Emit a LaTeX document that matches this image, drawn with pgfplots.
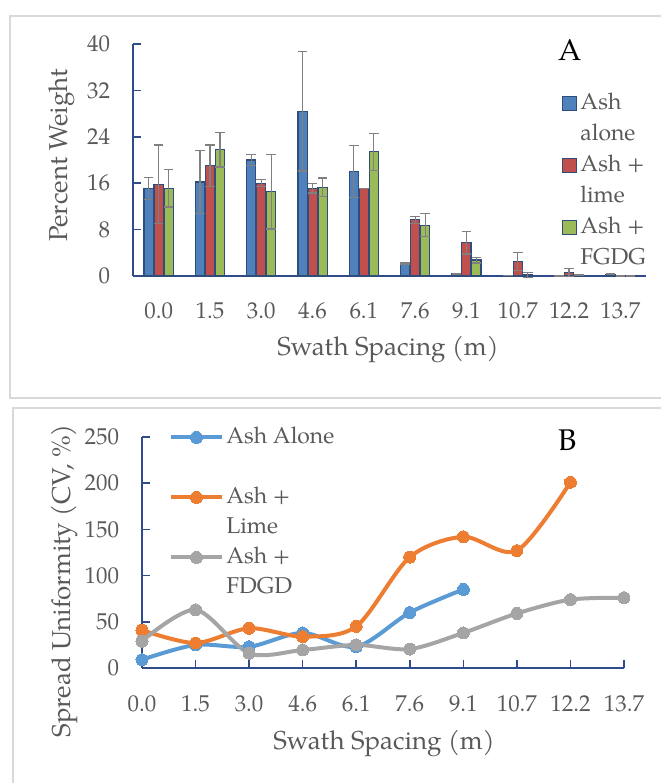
\documentclass[border=0pt]{standalone}
\usepackage{pgfplots}
\pgfplotsset{compat=1.18}
\usepackage{pgfplotstable}
\usepackage{fontspec}
\setmainfont{TeX Gyre Pagella}

\definecolor{cblue}{HTML}{4F81BD}
\definecolor{cred}{HTML}{C0504D}
\definecolor{cgreen}{HTML}{9BBB59}
\definecolor{bordr}{HTML}{2E4D7B}
\definecolor{axisblue}{HTML}{2F4B8A}
\definecolor{txt}{HTML}{595959}
\definecolor{lblue}{HTML}{5B9BD5}
\definecolor{lorange}{HTML}{ED7D31}
\definecolor{lgrey}{HTML}{A5A5A5}
\definecolor{framec}{HTML}{D9D9D9}

% panel A: percent weight, mean and error
\pgfplotstableread{
x  blue  eb    red   er    green eg
0  15.1  1.9   15.8  6.8   15.1  3.2
1  16.2  5.4   19.0  3.6   21.8  3.0
2  20.0  0.9   16.0  0.6   14.5  6.4
3  28.4  10.3  15.1  0.8   15.3  1.6
4  18.0  4.5   15.1  0.0   21.4  3.2
5  2.1   0.15  9.7   0.6   8.75  2.0
6  0.35  0.1   5.75  1.95  2.75  0.5
7  0.05  0.0   2.5   1.5   0.2   0.4
8  0.0   0.0   0.6   0.7   0.15  0.1
9  0.3   0.1   0.0   0.0   0.0   0.0
}\barsA

\newcommand\lblfont{\fontsize{13}{15}\selectfont}
\newcommand\tlfont{\fontsize{11.5}{13}\selectfont}
% category label under panel A (its tick labels would not move down)
\newcommand\xl[2]{\node[txt, font=\tlfont, anchor=base, yshift=-21.5bp] at (axis cs:#1,0) {#2};}
\pgfplotsset{
  panel/.style={
    scale only axis,
    axis x line*=bottom, axis y line*=left,
    axis line style={axisblue, line width=0.8bp},
    tick align=inside, major tick length=4bp,
    tick style={axisblue, line width=0.8bp},
    tick label style={txt, font=\tlfont},
    /pgf/number format/assume math mode=true,
    xticklabels={0.0,1.5,3.0,4.6,6.1,7.6,9.1,10.7,12.2,13.7},
    xtick={0,...,9},
    yticklabel style={xshift=-8bp},
    legend cell align=left,
  },
  errs/.style={
    error bars/.cd, y dir=both, y explicit,
    error bar style={color=gray, line width=0.6bp},
    error mark options={rotate=90, gray, mark size=2.4bp, line width=0.6bp},
  },
}

\begin{document}
\begin{tikzpicture}
\path[use as bounding box] (0,0) rectangle (330.5bp,391.5bp);
\begin{scope}
  \clip (0,0) rectangle (330.5bp,391.5bp);
  \draw[framec, line width=1bp] (5bp,192.5bp) rectangle (360bp,383.5bp);
  \draw[framec, line width=1bp] (6.5bp,-20bp) rectangle (360bp,187.5bp);
\end{scope}

% ---------- A ----------
\begin{axis}[panel,
  at={(66.5bp,253.5bp)}, anchor=south west,
  width=256.5bp, height=116bp,
  xtick=\empty,
  clip=false,
  ybar, bar width=4.6bp,
  xmin=-0.5, xmax=9.5, ymin=0, ymax=40,
  ytick={0,8,...,40},
  xlabel={Swath Spacing (m)},
  ylabel={Percent Weight},
  every axis x label/.style={at={(axis description cs:0.497,-0.319)}, anchor=center, txt, font=\lblfont},
  every axis y label/.style={at={(axis description cs:-0.138,0.52)}, rotate=90, anchor=center, txt, font=\lblfont},
  legend image code/.code={\draw[#1] (0bp,-3.5bp) rectangle (7bp,3.5bp);},
  legend style={at={(axis description cs:0.836,0.8125)}, anchor=north west,
    draw=none, fill=none, inner sep=0pt, row sep=0pt,
    font=\tlfont, text=txt, cells={anchor=west},
    nodes={text height=8.5bp, text depth=2.5bp, inner ysep=2.25bp, inner xsep=1.5bp}},
]
\addplot[fill=cblue, draw=bordr, line width=0.6bp, bar shift=-5bp, errs]
  table[x=x, y=blue, y error=eb] {\barsA};
\addlegendimage{opacity=0}
\addplot[fill=cred, draw=bordr, line width=0.6bp, bar shift=0bp, errs]
  table[x=x, y=red, y error=er] {\barsA};
\addlegendimage{opacity=0}
\addplot[fill=cgreen, draw=bordr, line width=0.6bp, bar shift=5bp, errs]
  table[x=x, y=green, y error=eg] {\barsA};
\addlegendimage{opacity=0}
\legend{Ash, alone, Ash +, lime, Ash +, FGDG}
\xl{0}{0.0}\xl{1}{1.5}\xl{2}{3.0}\xl{3}{4.6}\xl{4}{6.1}
\xl{5}{7.6}\xl{6}{9.1}\xl{7}{10.7}\xl{8}{12.2}\xl{9}{13.7}
\node[font=\fontsize{15}{15}\selectfont] at (rel axis cs:0.852,0.974) {A};
\end{axis}

% ---------- B ----------
\begin{axis}[panel,
  at={(71bp,57.5bp)}, anchor=south west,
  width=241bp, height=115.5bp,
  xmin=0, xmax=9, ymin=0, ymax=250,
  ytick={0,50,...,250},
  clip=false,
  xticklabel shift=10.5bp,
  xlabel={Swath Spacing (m)},
  ylabel={Spread Uniformity (CV, \%)},
  every axis x label/.style={at={(axis description cs:0.502,-0.325)}, anchor=center, txt, font=\lblfont},
  every axis y label/.style={at={(axis description cs:-0.16,0.377)}, rotate=90, anchor=center, txt, font=\lblfont},
  legend image code/.code={\draw[mark repeat=2, mark phase=2, #1] plot coordinates {(0bp,0bp) (12.5bp,0bp) (25bp,0bp)};},
  legend style={at={(axis description cs:0.056,1.065)}, anchor=north west,
    draw=none, fill=none, inner sep=0pt, row sep=0pt,
    font=\tlfont, text=txt, cells={anchor=west},
    nodes={text height=8.5bp, text depth=2.5bp, inner ysep=2bp, inner xsep=1.5bp}},
  every axis plot/.append style={smooth, line width=2bp, mark=*, mark size=3bp},
]
\addplot[lblue, mark options={fill=lblue, draw=lblue, line width=0pt}] coordinates {
  (0,9) (1,25) (2,23) (3,38) (4,23) (5,60) (6,85)};
\addlegendimage{opacity=0}
\addplot[lorange, mark options={fill=lorange, draw=lorange, line width=0pt}] coordinates {
  (0,41) (1,27) (2,43) (3,34) (4,45) (5,120) (6,142) (7,127) (8,201)};
\addlegendimage{opacity=0}
\addplot[lgrey, mark options={fill=lgrey, draw=lgrey, line width=0pt}] coordinates {
  (0,29) (1,63) (2,16) (3,19.5) (4,25) (5,20.5) (6,38) (7,59) (8,74) (9,76)};
\addlegendimage{opacity=0}
\legend{Ash Alone, \mbox{}, Ash +, Lime, Ash +, FDGD}
\node[font=\fontsize{15}{15}\selectfont] at (rel axis cs:0.884,0.987) {B};
\end{axis}
\end{tikzpicture}
\end{document}
